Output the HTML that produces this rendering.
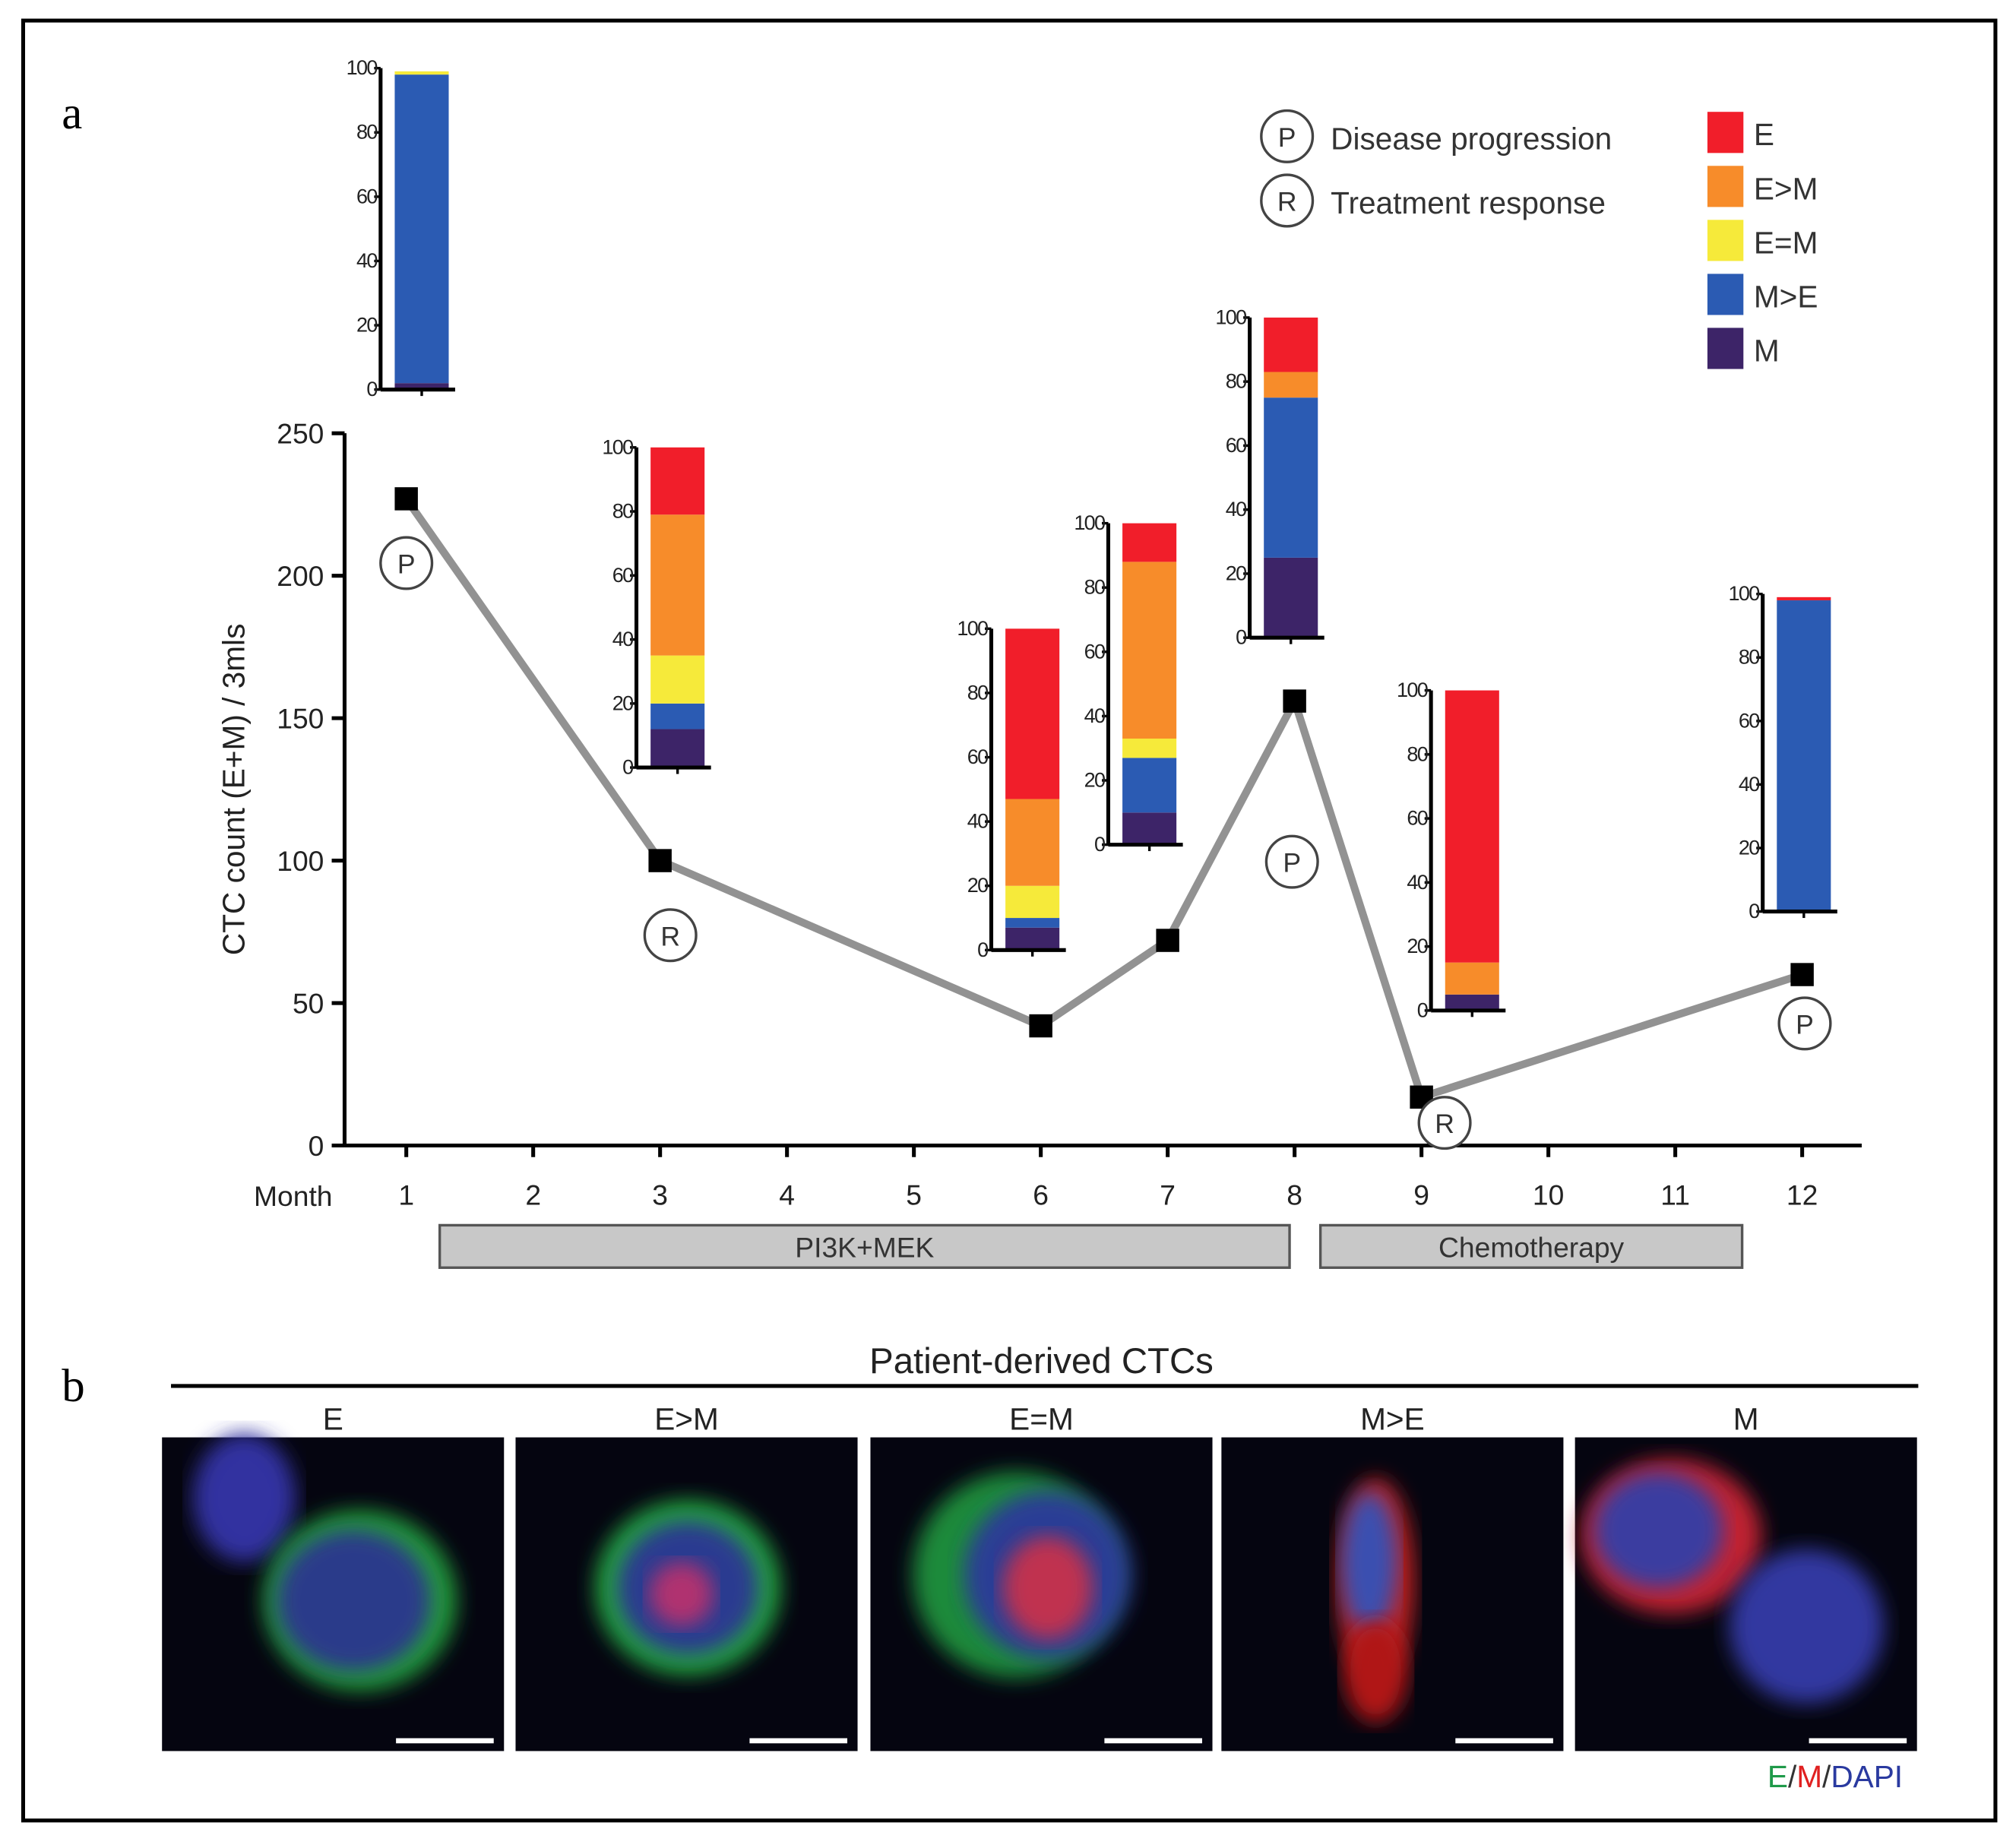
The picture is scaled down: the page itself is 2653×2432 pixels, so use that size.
<!DOCTYPE html>
<html><head><meta charset="utf-8"><style>
html,body{margin:0;padding:0;background:#fff}
svg{display:block}
text{font-family:"Liberation Sans",sans-serif}
</style></head><body>
<svg id="fig" width="2653" height="2432" viewBox="0 0 1568 1437.4" xmlns="http://www.w3.org/2000/svg">
<defs>
<filter id="blur8"><feGaussianBlur stdDeviation="8"/></filter>
</defs>
<rect x="18" y="16" width="1534" height="1400" fill="#fff" stroke="#000" stroke-width="3"/>
<text x="48" y="100" style="font-family:'Liberation Serif',serif" font-size="36">a</text>
<text x="48" y="1090" style="font-family:'Liberation Serif',serif" font-size="36">b</text>
<g id="main"></g>
<g id="insets"></g>
<g id="legend"></g>
<g id="panelb"></g>
</svg>
<script>
const months=[1,3,6,7,8,9,12];
const counts=[227,100,42,72,156,17,60];
const yTicks=[0,50,100,150,200,250];
const xTickMonths=[1,2,3,4,5,6,7,8,9,10,11,12];
const statusMarks=['P','R',null,null,'P','R','P'];
const catNames=['M','M>E','E=M','E>M','E'];
const catColors=['#3d2468','#2b5bb3','#f6ea3a','#f78c2a','#f11e2a'];
const segM=[2,12,7,10,25,5,0];
const segMgtE=[96,8,3,17,50,0,98];
const segEeqM=[1,15,10,6,0,0,0];
const segEgtM=[0,44,27,55,8,10,0];
const segE=[0,21,53,12,17,85,1];
const insetTicks=[0,20,40,60,80,100];

const NS='http://www.w3.org/2000/svg';
function mk(tag,attrs,parent,txt){const e=document.createElementNS(NS,tag);for(const k in attrs)e.setAttribute(k,attrs[k]);if(txt!=null)e.textContent=txt;parent.appendChild(e);return e;}
const X=m=>316+(m-1)*98.7;
const Y=v=>891-v*2.216;
const main=document.getElementById('main');

let ax=mk('line',{x1:268,y1:Y(250),x2:268,y2:891,stroke:'#000','stroke-width':3},main);

ax=mk('line',{x1:268,y1:891,x2:1448,y2:891,stroke:'#000','stroke-width':3},main);

yTicks.forEach(v=>{
  let t=mk('line',{x1:258,y1:Y(v),x2:268,y2:Y(v),stroke:'#000','stroke-width':3},main);
  
  let l=mk('text',{x:252,y:Y(v)+8,'text-anchor':'end','font-size':22,fill:'#222'},main,v);
  
});
xTickMonths.forEach(m=>{
  let t=mk('line',{x1:X(m),y1:891,x2:X(m),y2:900,stroke:'#000','stroke-width':3},main);
  
  let l=mk('text',{x:X(m),y:937,'text-anchor':'middle','font-size':22,fill:'#222'},main,m);
  
});
let mt=mk('text',{x:228,y:938,'text-anchor':'middle','font-size':22,fill:'#222'},main,'Month');

let yt=mk('text',{x:0,y:0,'text-anchor':'middle','font-size':24,fill:'#222',transform:'translate(190,614) rotate(-90)'},main,'CTC count (E+M) / 3mls');


let pts=months.map((m,i)=>X(m)+','+Y(counts[i])).join(' ');
let pl=mk('polyline',{points:pts,fill:'none',stroke:'#929292','stroke-width':6},main);

const markOff=[[0,50],[8,58],null,null,[-2,125],[18,20],[2,38]];
months.forEach((m,i)=>{
  let r=mk('rect',{x:X(m)-9,y:Y(counts[i])-9,width:18,height:18,fill:'#000'},main);
  
  if(statusMarks[i]){
    const o=markOff[i];const cx=X(m)+o[0],cy=Y(counts[i])+o[1];
    let g=mk('g',{},main);
    
    mk('circle',{cx:cx,cy:cy,r:20,fill:'#fff',stroke:'#444','stroke-width':2},g);
    mk('text',{x:cx,y:cy+8,'text-anchor':'middle','font-size':21,fill:'#333'},g,statusMarks[i]);
  }
});
[[342,1003,'PI3K+MEK'],[1027,1355,'Chemotherapy']].forEach(b=>{
  let g=mk('g',{},main);
  
  mk('rect',{x:b[0],y:953,width:b[1]-b[0],height:33,fill:'#c8c8c8',stroke:'#555','stroke-width':2},g);
  mk('text',{x:(b[0]+b[1])/2,y:978,'text-anchor':'middle','font-size':22,fill:'#333'},g,b[2]);
});

const insetGeom=[[296,303,53],[495,597,348],[771,739,489],[862,657,407],[972,496,247],[1113,786,537],[1371,709,462]];
const ins=document.getElementById('insets');
const segs=[segM,segMgtE,segEeqM,segEgtM,segE];
months.forEach((m,i)=>{
  const [ax0,y0,y1]=insetGeom[i];
  const sy=v=>y0-(y0-y1)*v/100;
  let g=mk('g',{},ins);
  
  let cum=0;
  segs.forEach((s,k)=>{
    const v=s[i];if(v<=0){return;}
    let r=mk('rect',{x:ax0+11,y:sy(cum+v),width:42,height:sy(cum)-sy(cum+v),fill:catColors[k]},g);
    
    cum+=v;
  });
  mk('line',{x1:ax0,y1:y1,x2:ax0,y2:y0,stroke:'#000','stroke-width':3},g);
  mk('line',{x1:ax0,y1:y0,x2:ax0+58,y2:y0,stroke:'#000','stroke-width':3},g);
  mk('line',{x1:ax0+32,y1:y0,x2:ax0+32,y2:y0+5,stroke:'#000','stroke-width':2},g);
  insetTicks.forEach(t=>{
    mk('line',{x1:ax0-5,y1:sy(t),x2:ax0,y2:sy(t),stroke:'#000','stroke-width':2},g);
    mk('text',{x:ax0-3,y:sy(t)+5,'text-anchor':'end','font-size':16,fill:'#222','letter-spacing':'-1'},g,t);
  });
});

const lg=document.getElementById('legend');
[['P','Disease progression',106],['R','Treatment response',156]].forEach(d=>{
  let g=mk('g',{},lg);
  
  mk('circle',{cx:1001,cy:d[2],r:20,fill:'#fff',stroke:'#444','stroke-width':2},g);
  mk('text',{x:1001,y:d[2]+8,'text-anchor':'middle','font-size':21,fill:'#333'},g,d[0]);
  mk('text',{x:1035,y:d[2]+10,'font-size':24,fill:'#333'},g,d[1]);
});
const legOrder=[4,3,2,1,0];
legOrder.forEach((k,j)=>{
  let g=mk('g',{},lg);
  
  const y=87+j*42;
  mk('rect',{x:1328,y:y,width:28,height:32,fill:catColors[k]},g);
  mk('text',{x:1364,y:y+26,'font-size':24,fill:'#333'},g,catNames[k]);
});

const pb=document.getElementById('panelb');
let tt=mk('text',{x:810,y:1068,'text-anchor':'middle','font-size':28,fill:'#222'},pb,'Patient-derived CTCs');

let hl=mk('line',{x1:133,y1:1078,x2:1492,y2:1078,stroke:'#000','stroke-width':3},pb);

const imgs=[[126,'E'],[401,'E>M'],[677,'E=M'],[950,'M>E'],[1225,'M']];
const blobs=[
 [[190,1165,40,50,'#3030a0'],[280,1245,75,70,'#229a3a'],[275,1245,60,55,'#2a3a8a']],
 [[535,1235,72,68,'#22a040'],[535,1235,55,52,'#2b3a90'],[530,1240,25,25,'#b03070']],
 [[790,1225,80,80,'#1e8a3a'],[815,1225,65,65,'#2b3c95'],[815,1235,35,40,'#c03050']],
 [[1070,1230,30,80,'#c02020'],[1065,1215,22,55,'#3a50b0'],[1070,1300,25,40,'#b01818']],
 [[1300,1195,70,60,'#c02030'],[1405,1265,60,60,'#3038a0'],[1290,1190,50,45,'#3a3ca0']]
];
imgs.forEach((d,i)=>{
  let g=mk('g',{},pb);
  
  mk('text',{x:d[0]+133,y:1112,'text-anchor':'middle','font-size':24,fill:'#222'},g,d[1]);
  mk('rect',{x:d[0],y:1118,width:266,height:244,fill:'#050510'},g);
  blobs[i].forEach(b=>mk('ellipse',{cx:b[0],cy:b[1],rx:b[2],ry:b[3],fill:b[4],filter:'url(#blur8)'},g));
  mk('line',{x1:d[0]+182,y1:1354,x2:d[0]+258,y2:1354,stroke:'#fff','stroke-width':4},g);
});
let key=mk('text',{x:1480,y:1390,'text-anchor':'end','font-size':24},pb);

mk('tspan',{fill:'#1f9a4a'},key,'E');mk('tspan',{fill:'#333'},key,'/');
mk('tspan',{fill:'#e02020'},key,'M');mk('tspan',{fill:'#333'},key,'/');
mk('tspan',{fill:'#2a3aa0'},key,'DAPI');
</script>
</body></html>
